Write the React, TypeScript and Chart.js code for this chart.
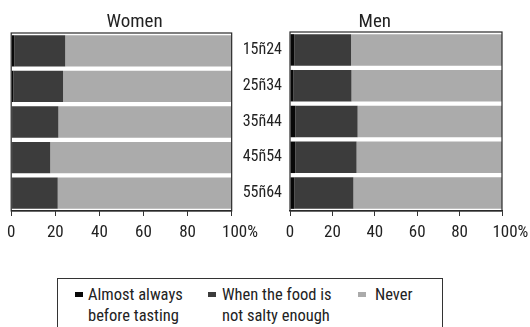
import React, { useEffect, useRef } from "react";
import { Chart, registerables } from "chart.js";

Chart.register(...registerables);

const ageGroups = ["15ñ24", "25ñ34", "35ñ44", "45ñ54", "55ñ64"];
const xTicks = [0, 20, 40, 60, 80, 100];

const womenAlways = [1.5, 1, 0.4, 0.4, 0.4];
const womenNotSalty = [23, 22.5, 21, 17.3, 20.7];
const womenNever = [75.5, 76.5, 78.6, 82.3, 78.9];

const menAlways = [2, 1.5, 2.5, 2.5, 2];
const menNotSalty = [26.8, 27.5, 29.4, 28.9, 27.9];
const menNever = [71.2, 71, 68.1, 68.6, 70.1];

const seriesNames = ["Almost always before tasting", "When the food is not salty enough", "Never"];
const colors = ["#080808", "#3c3c3c", "#ababab"];

const FONT = "'Roboto Condensed', Roboto, sans-serif";

const framePlugin = {
  id: "frame",
  afterDatasetsDraw(chart: any) {
    const { ctx, chartArea } = chart;
    ctx.save();
    ctx.strokeStyle = "#2a2a2a";
    ctx.lineWidth = 1.2;
    ctx.strokeRect(chartArea.left, chartArea.top, chartArea.right - chartArea.left, chartArea.bottom - chartArea.top);
    ctx.restore();
  },
};

const panelTitlePlugin = {
  id: "panelTitle",
  afterDraw(chart: any, _args: any, opts: any) {
    const { ctx, chartArea } = chart;
    ctx.save();
    ctx.fillStyle = "#222";
    ctx.font = `400 19px ${FONT}`;
    ctx.textAlign = "center";
    ctx.textBaseline = "alphabetic";
    const x = chartArea.left + opts.position * (chartArea.right - chartArea.left);
    ctx.fillText(opts.text, x, 27);
    ctx.restore();
  },
};

function makeConfig(
  title: string,
  titlePos: number,
  a: number[],
  b: number[],
  c: number[],
  showY: boolean,
  padding: any,
  yWidth: number
) {
  return {
    type: "bar" as const,
    data: {
      labels: ageGroups,
      datasets: [a, b, c].map((d, i) => ({
        label: seriesNames[i],
        data: d,
        backgroundColor: colors[i],
        borderWidth: 0,
        barPercentage: 0.88,
        categoryPercentage: 1,
      })),
    },
    options: {
      animation: false,
      responsive: false,
      indexAxis: "y" as const,
      layout: { padding },
      plugins: {
        legend: { display: false },
        tooltip: { enabled: false },
        title: { display: false },
        panelTitle: { text: title, position: titlePos },
      },
      scales: {
        x: {
          stacked: true,
          min: 0,
          max: 100,
          afterBuildTicks(scale: any) {
            scale.ticks = xTicks.map((v) => ({ value: v }));
          },
          afterFit(scale: any) {
            scale.height = 39;
          },
          grid: { display: true, drawOnChartArea: false, drawTicks: true, tickLength: 5, color: "#333" },
          border: { display: true, color: "#2a2a2a", width: 1.2 },
          ticks: {
            padding: 7,
            color: "#222",
            autoSkip: false,
            maxRotation: 0,
            minRotation: 0,
            font: { family: FONT, size: 17 },
            callback: (v: any) => (v === 100 ? "\u2007\u2007100%" : String(v)),
          },
        },
        y: {
          stacked: true,
          display: showY,
          afterFit(scale: any) {
            scale.width = yWidth;
          },
          grid: { display: false },
          border: { display: false },
          ticks: {
            crossAlign: "center" as const,
            padding: 0,
            color: "#222",
            font: { family: FONT, size: 16 },
          },
        },
      },
    },
    plugins: [framePlugin, panelTitlePlugin],
  };
}

export default function App() {
  const womenRef = useRef<HTMLCanvasElement>(null);
  const menRef = useRef<HTMLCanvasElement>(null);

  useEffect(() => {
    const w = new Chart(
      womenRef.current!,
      makeConfig("Women", 0.56, womenAlways, womenNotSalty, womenNever, false, { left: 11, right: 33, top: 33, bottom: 0 }, 0) as any
    );
    const m = new Chart(
      menRef.current!,
      makeConfig("Men", 0.4, menAlways, menNotSalty, menNever, true, { left: 0, right: 40, top: 32, bottom: 0 }, 58) as any
    );
    return () => {
      w.destroy();
      m.destroy();
    };
  }, []);

  const legendText: React.CSSProperties = {
    position: "absolute",
    fontFamily: FONT,
    fontSize: 16.5,
    lineHeight: "21px",
    color: "#222",
    whiteSpace: "nowrap",
  };
  const marker = (left: number, color: string): React.CSSProperties => ({
    position: "absolute",
    left,
    top: 292,
    width: 8,
    height: 5,
    background: color,
  });

  return (
    <div style={{ position: "absolute", left: 0, top: 0, width: 530, height: 327, background: "#fff", overflow: "hidden" }}>
      <canvas ref={womenRef} width={265} height={250} style={{ position: "absolute", left: 0, top: 0, width: 265, height: 250 }} />
      <canvas ref={menRef} width={310} height={250} style={{ position: "absolute", left: 232, top: 0, width: 310, height: 250 }} />
      <div style={{ position: "absolute", left: 57, top: 278, width: 386, height: 80, border: "1px solid #333", boxSizing: "border-box" }} />
      <div style={marker(75, colors[0])} />
      <div style={{ ...legendText, left: 88, top: 284 }}>Almost always<br />before tasting</div>
      <div style={marker(208, colors[1])} />
      <div style={{ ...legendText, left: 222, top: 284 }}>When the food is<br />not salty enough</div>
      <div style={marker(358, colors[2])} />
      <div style={{ ...legendText, left: 375, top: 284 }}>Never</div>
    </div>
  );
}
